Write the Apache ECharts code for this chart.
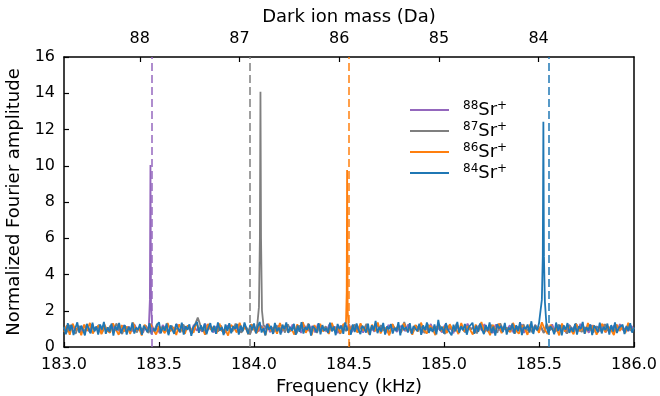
<!DOCTYPE html>
<html>
<head>
<meta charset="utf-8">
<script src="https://cdn.jsdelivr.net/npm/echarts@6/dist/echarts.min.js"></script>
<style>
  html, body { margin: 0; padding: 0; background: #fff; }
  #main { width: 660px; height: 396px; }
</style>
</head>
<body>
<div id="main"></div>
<script>
// 频率范围 183.0 - 186.0 kHz，底噪按等间隔采样
var freqMin = 183.0;
var freqMax = 186.0;
var isotopes = ['88', '87', '86', '84'];
var colors = ['#9467bd', '#7f7f7f', '#ff7f0e', '#1f77b4'];
var dashFreqs = [183.455, 183.98, 184.50, 185.55];
var massTicks = [84, 85, 86, 87, 88];

var purpleNoise = [
  0.96,1.14,0.83,1.22,0.90,1.07,0.78,1.19,1.01,0.87,1.25,0.93,1.10,0.80,1.16,0.97,0.85,1.28,0.91,1.04,
  0.77,1.20,0.99,1.12,0.84,1.24,0.92,1.06,0.79,1.17,0.95,1.27,0.88,1.02,0.76,1.21,1.00,0.86,1.13,0.94,
  1.26,0.82,1.09,0.97,1.18,0.78,1.23,0.90,1.05,0.85,1.29,0.96,1.11,0.80,1.15,0.93,1.03,0.77,1.20,0.89,
  1.08,0.99,1.25,0.83,1.14,0.91,0.76,1.22,1.00,0.87,1.17,0.95,1.28,0.81,1.06,0.92,1.19,0.79,1.12,0.98,
  0.86,1.24,0.94,1.10,0.78,1.21,1.02,0.88,1.16,0.80,1.27,0.97,1.07,0.84,1.23,0.90,1.13,0.76,1.18,1.01,
  0.92,1.26,0.82,1.09,0.96,1.20,0.79,1.15,0.89,1.04,0.85,1.28,0.93,1.11,0.77,1.22,0.98,1.06,0.83,1.17,
  1.00,0.88,1.25,0.80,1.12,0.95,1.19,0.78,1.08,0.91,1.27,0.86,1.14,0.97,0.81,1.23,0.90,1.05,0.76,1.21,
  0.94,1.16,0.84,1.29,0.99,1.07,0.79,1.18,0.92,1.26,0.87,1.10,0.77,1.24,1.03,0.85,1.15,0.96,1.20,0.82,
  1.11,0.90,1.27,0.78,1.13,1.01,0.86,1.22,0.94,1.08,0.80,1.19,0.97,1.25,0.83,1.06,0.89,1.17,0.76,1.23,
  0.98,1.12,0.84,1.28,0.91,1.04,0.79,1.20,0.95,1.14,0.87,1.24,0.81,1.09,0.99,1.18,0.85,1.26,0.93,1.05,
  0.88,1.16,1.00
];
var grayNoise = [
  1.05,0.82,1.21,0.93,0.74,1.16,1.00,0.87,1.27,0.79,1.10,0.95,1.23,0.76,1.08,0.90,1.19,0.84,1.30,0.97,
  0.72,1.14,1.02,0.86,1.25,0.80,1.11,0.94,1.20,0.77,1.06,0.89,1.28,0.83,1.13,0.99,0.73,1.18,0.92,1.04,
  0.81,1.24,0.96,1.09,0.75,1.22,1.62,1.15,0.98,0.78,1.26,0.91,1.07,0.85,1.19,0.74,1.12,1.01,0.87,1.29,
  0.94,0.79,1.17,1.03,0.72,1.23,0.90,1.10,0.83,1.27,0.97,1.05,0.76,1.20,0.92,1.13,0.80,1.25,0.89,1.08,
  0.75,1.18,0.99,0.86,1.30,0.93,1.06,0.78,1.22,0.95,1.14,0.82,1.26,0.90,1.02,0.73,1.19,0.88,1.11,0.97,
  1.24,0.81,1.07,0.94,1.28,0.77,1.15,1.00,0.85,1.21,0.92,1.09,0.74,1.25,0.96,1.12,0.83,1.38,0.89,1.04,
  0.79,1.20,0.98,1.13,0.76,1.27,0.91,1.05,0.84,1.23,0.95,0.72,1.16,1.01,0.87,1.29,0.93,1.08,0.80,1.18,
  0.97,1.10,0.75,1.26,0.90,1.14,0.82,1.22,1.03,0.78,1.31,0.94,1.06,0.86,1.19,0.73,1.12,0.99,1.25,0.88,
  1.07,0.81,1.21,0.95,1.15,0.77,1.28,0.92,1.02,0.84,1.24,0.96,1.11,0.74,1.17,0.89,1.30,0.98,0.83,1.09,
  0.93,1.20,0.79,1.14,1.00,0.87,1.26,0.91,1.05,0.76,1.22,0.97,1.12,0.85,1.18,0.90,1.03
];
var orangeNoise = [
  0.84,1.20,0.68,1.29,0.93,1.08,0.65,1.24,0.88,1.33,0.74,1.03,1.17,0.70,1.26,0.90,0.79,1.31,0.97,0.67,
  1.21,0.86,1.12,0.72,1.35,0.92,1.05,0.64,1.23,0.83,1.28,0.95,0.69,1.14,1.01,0.76,1.32,0.87,1.09,0.66,
  1.25,0.91,0.73,1.19,1.02,0.78,1.36,0.89,1.06,0.68,1.27,0.94,1.13,0.75,1.30,0.85,0.99,0.63,1.22,1.07,
  0.80,1.34,0.90,1.11,0.71,1.26,0.96,0.77,1.18,1.04,0.66,1.29,0.88,1.10,0.73,1.32,0.93,1.20,0.82,1.01,
  0.69,1.24,0.97,1.37,0.78,1.08,0.65,1.21,0.92,1.28,0.86,1.03,0.72,1.33,0.95,1.12,0.76,1.25,0.89,0.67,
  1.17,1.00,0.81,1.31,0.91,1.06,0.70,1.23,0.87,1.35,0.75,1.09,0.98,0.64,1.27,0.93,1.14,0.79,1.30,0.90,
  1.04,0.68,1.22,0.85,1.34,0.96,0.74,1.19,1.02,0.66,1.28,0.88,1.11,0.77,1.26,0.94,1.07,0.71,1.32,0.86,
  1.13,0.97,0.69,1.24,0.89,1.38,0.80,1.05,0.65,1.21,0.93,1.29,0.76,1.10,1.00,0.82,1.33,0.91,0.73,1.18,
  1.03,0.67,1.27,0.87,1.12,0.78,1.36,0.95,0.72,1.23,0.90,1.08,0.64,1.30,0.85,1.15,0.97,0.70,1.25,0.88,
  1.06,0.75,1.32,0.92,1.20,0.68,1.01,1.28,0.81,1.14,0.96,0.66,1.24,0.89,1.09,0.77,1.34,0.94,1.05
];
var blueNoise = [
  1.12,0.70,1.31,0.88,1.22,0.66,1.05,1.36,0.79,1.18,0.93,0.64,1.27,1.01,0.75,1.34,0.86,1.14,0.68,1.24,
  0.97,1.38,0.73,1.09,0.83,1.29,0.63,1.16,0.92,1.33,0.77,1.03,1.21,0.69,1.11,0.89,1.35,0.74,1.07,0.95,
  1.26,0.67,1.17,0.99,0.81,1.32,0.71,1.04,0.87,1.23,1.37,0.76,1.13,0.90,1.30,0.65,1.19,0.96,0.72,1.28,
  1.02,0.84,1.34,0.69,1.15,0.94,1.25,0.62,1.08,0.98,1.39,0.78,1.20,0.85,1.29,0.70,1.06,1.32,0.82,1.17,
  0.73,1.36,0.91,1.10,0.66,1.24,0.88,1.31,0.76,1.14,0.99,1.27,0.68,1.18,0.86,1.35,1.00,0.71,1.22,0.93,
  1.30,0.75,1.12,1.38,0.80,1.04,0.64,1.26,0.95,1.16,0.72,1.33,0.87,1.07,0.69,1.23,0.97,1.35,0.78,1.11,
  0.90,1.28,0.67,1.19,0.84,1.37,0.74,1.09,0.96,1.25,0.63,1.15,1.02,0.81,1.32,0.70,1.21,0.89,1.05,0.77,
  1.34,0.86,1.13,0.65,1.27,0.99,1.18,0.73,1.36,0.92,1.08,0.68,1.24,0.83,1.30,0.95,0.71,1.17,1.03,0.79,
  1.29,0.66,1.20,0.91,1.44,0.76,1.11,0.85,1.33,0.69,1.14,0.98,1.26,0.74,1.06,0.88,1.37,0.64,1.22,0.94,
  1.10,0.80,1.31,0.72,1.16,1.01,0.87,1.28,0.67,1.19,0.93,1.35,0.78,1.07,0.83,1.25,0.70,1.50,0.90,1.12,
  0.75,1.32,0.97,1.04,0.65,1.23,0.86,1.38,0.79,1.15,0.92,1.27,0.68,1.09,1.00,1.34,0.73,1.18,0.84,1.30,
  0.96,0.71,1.21,0.89,1.36,0.77,1.13,0.63,1.26,1.02,1.16,0.82,1.33,0.69,1.08,0.94,1.29,0.74,1.20,0.87,
  1.37,0.66,1.11,0.98,1.24,0.80,1.42,0.72,1.17,0.91,1.31,0.67,1.05,0.85,1.28,0.76,1.14,1.01,0.70,1.35,
  0.88,1.22,0.64,1.19,0.95,1.32,0.78,1.07,0.84,1.27,0.69,1.15,0.99,1.38,0.73,1.10,0.90,1.25,0.66,1.18,
  1.03,0.81,1.34,0.75,1.12,0.93,1.29,0.68,1.21,0.86,1.36,0.77,1.06,0.97,1.23,0.71,1.16,0.89,1.31,0.79,
  1.08
];

// 共振峰（频率, 幅值）
var purplePeakX = [183.447, 183.452, 183.455, 183.458, 183.463];
var purplePeakY = [1.25, 2.6, 10.04, 2.4, 1.2];
var grayPeakX = [184.018, 184.026, 184.031, 184.034, 184.037, 184.042, 184.050];
var grayPeakY = [1.3, 2.2, 6.0, 14.08, 6.0, 2.0, 1.2];
var orangePeakX = [184.484, 184.488, 184.490, 184.493, 184.498];
var orangePeakY = [1.3, 3.0, 9.77, 2.0, 1.1];
var bluePeakX = [185.506, 185.515, 185.520, 185.523, 185.526, 185.531, 185.540];
var bluePeakY = [1.3, 2.6, 5.0, 12.43, 5.0, 2.5, 1.1];

var noiseList = [purpleNoise, grayNoise, orangeNoise, blueNoise];
var peakXList = [purplePeakX, grayPeakX, orangePeakX, bluePeakX];
var peakYList = [purplePeakY, grayPeakY, orangePeakY, bluePeakY];

// 合并底噪和峰值点
function buildSeriesData(noise, px, py) {
  var step = (freqMax - freqMin) / (noise.length - 1);
  var lo = px[0], hi = px[px.length - 1];
  var pts = [];
  for (var i = 0; i < noise.length; i++) {
    var f = freqMin + i * step;
    if (f >= lo && f <= hi) continue;
    pts.push([f, noise[i]]);
  }
  for (var j = 0; j < px.length; j++) {
    pts.push([px[j], py[j]]);
  }
  pts.sort(function(a, b) { return a[0] - b[0]; });
  return pts;
}

var font = 'DejaVu Sans';

var series = [];
for (var k = 0; k < isotopes.length; k++) {
  series.push({
    name: isotopes[k],
    type: 'line',
    xAxisIndex: 0,
    yAxisIndex: 0,
    symbol: 'none',
    animation: false,
    data: buildSeriesData(noiseList[k], peakXList[k], peakYList[k]),
    lineStyle: { color: colors[k], width: 1.8 },
    itemStyle: { color: colors[k] },
    markLine: {
      symbol: 'none',
      silent: true,
      animation: false,
      label: { show: false },
      lineStyle: { color: colors[k], type: [8, 4], width: 2, opacity: 0.75 },
      data: [{ xAxis: dashFreqs[k] }]
    }
  });
}

var chart = echarts.init(document.getElementById('main'));
chart.setOption({
  animation: false,
  textStyle: { fontFamily: font, color: '#000' },
  grid: { left: 64, right: 26, top: 57, bottom: 49, outerBoundsMode: 'none', containLabel: false },
  legend: {
    orient: 'vertical',
    left: 405,
    top: 95,
    itemWidth: 39,
    itemHeight: 2,
    itemGap: 2,
    icon: 'rect',
    data: isotopes,
    formatter: function(name) {
      return '{pad|}{sup|' + name + '}{main|Sr}{sup|+}';
    },
    textStyle: {
      rich: {
        pad: { width: 9, lineHeight: 20 },
        sup: { fontSize: 12, fontFamily: font, color: '#000', verticalAlign: 'top', lineHeight: 10 },
        main: { fontSize: 18, fontFamily: font, color: '#000', verticalAlign: 'middle', lineHeight: 20 }
      }
    }
  },
  xAxis: [
    {
      type: 'value',
      position: 'bottom',
      min: freqMin,
      max: freqMax,
      interval: 0.5,
      name: 'Frequency (kHz)',
      nameLocation: 'middle',
      nameGap: 24,
      nameTextStyle: { fontSize: 18, fontFamily: font, color: '#000' },
      axisLine: { onZero: false, lineStyle: { color: '#000', width: 1.5 } },
      axisTick: { inside: true, length: 5, lineStyle: { color: '#000', width: 1.2 } },
      axisLabel: {
        fontSize: 16, fontFamily: font, color: '#000', margin: 10,
        formatter: function(v) { return v.toFixed(1); }
      },
      splitLine: { show: false }
    },
    {
      type: 'value',
      position: 'top',
      min: 83.043,
      max: 88.760,
      inverse: true,
      name: 'Dark ion mass (Da)',
      nameLocation: 'middle',
      nameGap: 30,
      nameTextStyle: { fontSize: 18, fontFamily: font, color: '#000' },
      axisLine: { onZero: false, lineStyle: { color: '#000', width: 1.5 } },
      axisTick: { inside: true, length: 5, customValues: massTicks, lineStyle: { color: '#000', width: 1.2 } },
      axisLabel: { fontSize: 16, fontFamily: font, color: '#000', margin: 10, customValues: massTicks },
      splitLine: { show: false }
    }
  ],
  yAxis: [
    {
      type: 'value',
      min: 0,
      max: 16,
      interval: 2,
      name: 'Normalized Fourier amplitude',
      nameLocation: 'middle',
      nameGap: 33,
      nameTextStyle: { fontSize: 18, fontFamily: font, color: '#000' },
      axisLine: { show: true, lineStyle: { color: '#000', width: 1.5 } },
      axisTick: { show: true, inside: true, length: 5, lineStyle: { color: '#000', width: 1.2 } },
      axisLabel: { fontSize: 16, fontFamily: font, color: '#000', margin: 9 },
      splitLine: { show: false }
    },
    {
      type: 'value',
      position: 'right',
      min: 0,
      max: 16,
      axisLine: { show: true, lineStyle: { color: '#000', width: 1.5 } },
      axisTick: { show: false },
      axisLabel: { show: false },
      splitLine: { show: false }
    }
  ],
  series: series
});
</script>
</body>
</html>
